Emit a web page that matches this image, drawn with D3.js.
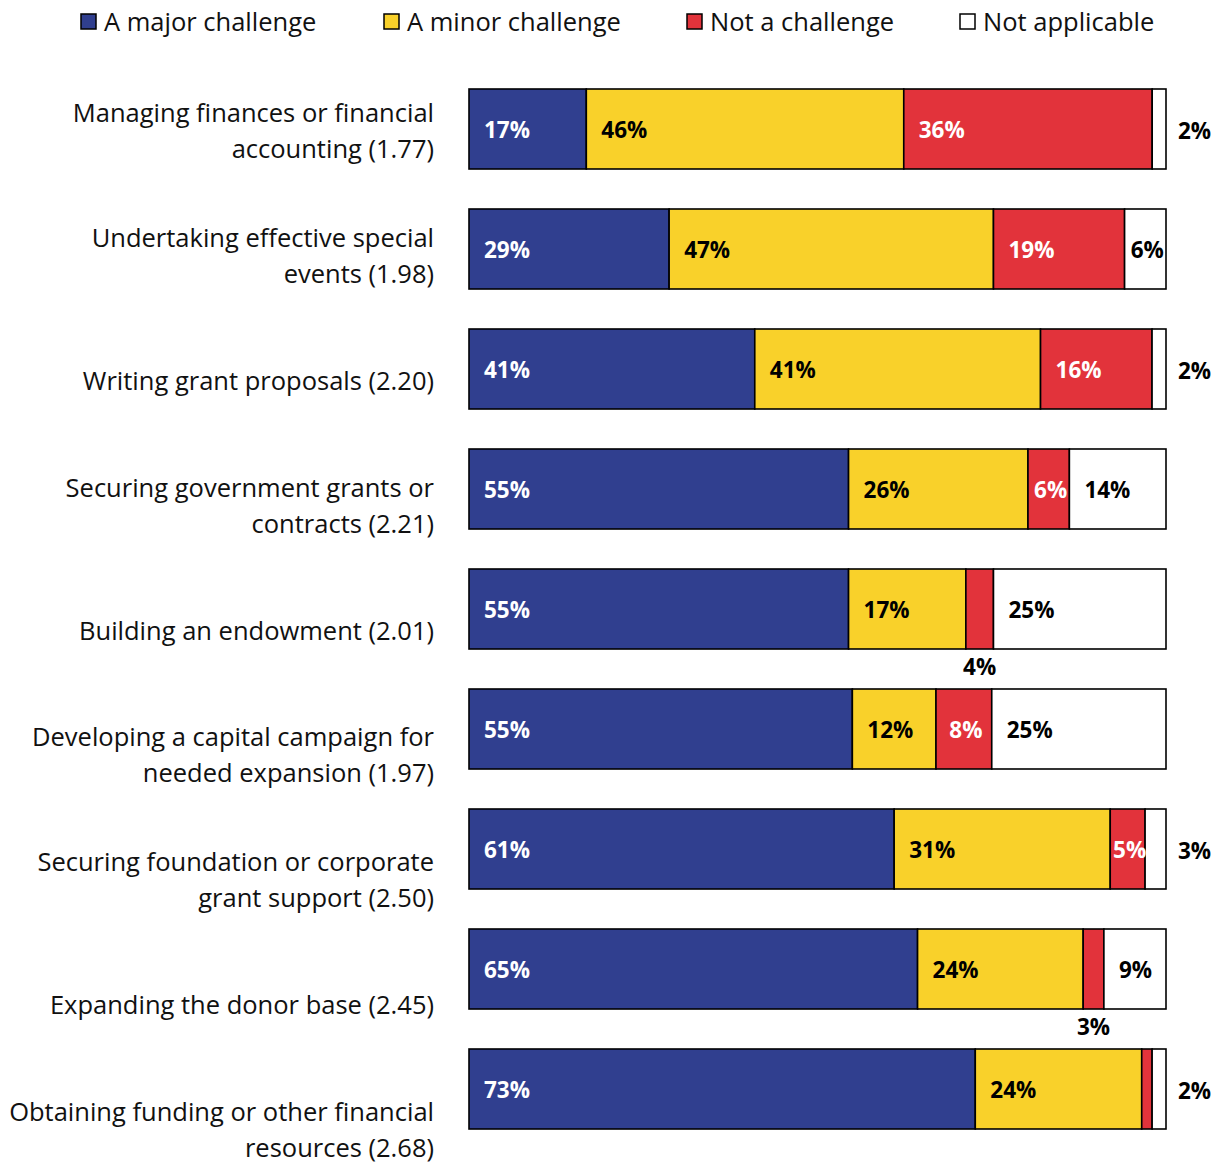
<!DOCTYPE html>
<html>
<head>
<meta charset="utf-8">
<script src="https://cdn.jsdelivr.net/npm/d3@7"></script>
<style>
  body { margin: 0; background: #fff; }
  text { font-family: "Open Sans", Lato, sans-serif; }
</style>
</head>
<body>
<svg id="chart" width="1226" height="1163"></svg>
<script>
// Survey: how much of a challenge is each fundraising / finance task
const categories = [
  "Managing finances or financial|accounting (1.77)",
  "Undertaking effective special|events (1.98)",
  "Writing grant proposals (2.20)",
  "Securing government grants or|contracts (2.21)",
  "Building an endowment (2.01)",
  "Developing a capital campaign for|needed expansion (1.97)",
  "Securing foundation or corporate|grant support (2.50)",
  "Expanding the donor base (2.45)",
  "Obtaining funding or other financial|resources (2.68)"
];
const seriesNames = ["A major challenge", "A minor challenge", "Not a challenge", "Not applicable"];
const majorChallenge = [17, 29, 41, 55, 55, 55, 61, 65, 73];
const minorChallenge = [46, 47, 41, 26, 17, 12, 31, 24, 24];
const notChallenge   = [36, 19, 16, 6, 4, 8, 5, 3, 1.5];
const notApplicable  = [2, 6, 2, 14, 25, 25, 3, 9, 2];
const colors = ["#303f8f", "#f9d12a", "#e2333b", "#ffffff"];
const labelColors = ["#fff", "#000", "#fff", "#000"];

const rows = categories.map((c, i) => ({
  cat: c,
  s0: majorChallenge[i], s1: minorChallenge[i], s2: notChallenge[i], s3: notApplicable[i]
}));
const keys = ["s0", "s1", "s2", "s3"];

const svg = d3.select("#chart");

const x = d3.scaleLinear().domain([0, 1]).range([469, 1166]);
const y = d3.scaleBand().domain(categories).range([69, 1149])
  .paddingInner(1 / 3).paddingOuter(1 / 6);
const labelY = d3.scalePoint().domain(categories).range([130, 1129]);

const stacked = d3.stack().keys(keys).offset(d3.stackOffsetExpand)(rows);

// Bars
const layers = svg.append("g").selectAll("g").data(stacked).join("g")
  .attr("fill", (d, i) => colors[i]);
layers.selectAll("rect").data(d => d).join("rect")
  .attr("x", d => x(d[0]))
  .attr("y", d => y(d.data.cat))
  .attr("width", d => x(d[1]) - x(d[0]))
  .attr("height", y.bandwidth())
  .attr("stroke", "#000")
  .attr("stroke-width", 1.6);

// Value labels
const lblG = svg.append("g");
stacked.forEach((layer, si) => {
  layer.forEach(d => {
    const v = d.data[keys[si]];
    if (v < 2) return; // values under 2% carry no label
    const x0 = x(d[0]), x1 = x(d[1]), w = x1 - x0;
    const yc = y(d.data.cat) + y.bandwidth() / 2;
    const t = lblG.append("text")
      .text(v + "%")
      .attr("font-size", 22.5)
      .attr("font-weight", 700)
      .attr("dominant-baseline", "central");
    const tw = t.node().getComputedTextLength();
    if (tw <= w) {
      t.attr("x", x0 + Math.min(15, Math.max(1, (w - tw) / 2 + 2))).attr("y", yc)
        .attr("fill", labelColors[si]);
    } else if (si === keys.length - 1) {
      t.attr("x", x1 + 12).attr("y", yc + 1).attr("fill", "#000");
    } else {
      t.attr("x", (x0 + x1) / 2).attr("text-anchor", "middle")
        .attr("y", y(d.data.cat) + y.bandwidth() + 17).attr("fill", "#000");
    }
  });
});

// Category labels
const catG = svg.append("g");
categories.forEach(c => {
  const lines = c.split("|");
  const yc = labelY(c);
  const t = catG.append("text")
    .attr("text-anchor", "end")
    .attr("font-size", 25.5)
    .attr("fill", "#111");
  lines.forEach((ln, k) => {
    t.append("tspan")
      .attr("x", 434)
      .attr("y", yc + (k - (lines.length - 1) / 2) * 36)
      .attr("dominant-baseline", "central")
      .text(ln);
  });
});

// Legend
const legendX = [81, 384, 687, 960];
const leg = svg.append("g");
seriesNames.forEach((name, i) => {
  leg.append("rect")
    .attr("x", legendX[i]).attr("y", 14)
    .attr("width", 15).attr("height", 15)
    .attr("fill", colors[i]).attr("stroke", "#000").attr("stroke-width", 1.5);
  leg.append("text")
    .attr("x", legendX[i] + 23).attr("y", 21)
    .attr("dominant-baseline", "central")
    .attr("font-size", 25.5)
    .attr("fill", "#111")
    .text(name);
});
</script>
</body>
</html>
